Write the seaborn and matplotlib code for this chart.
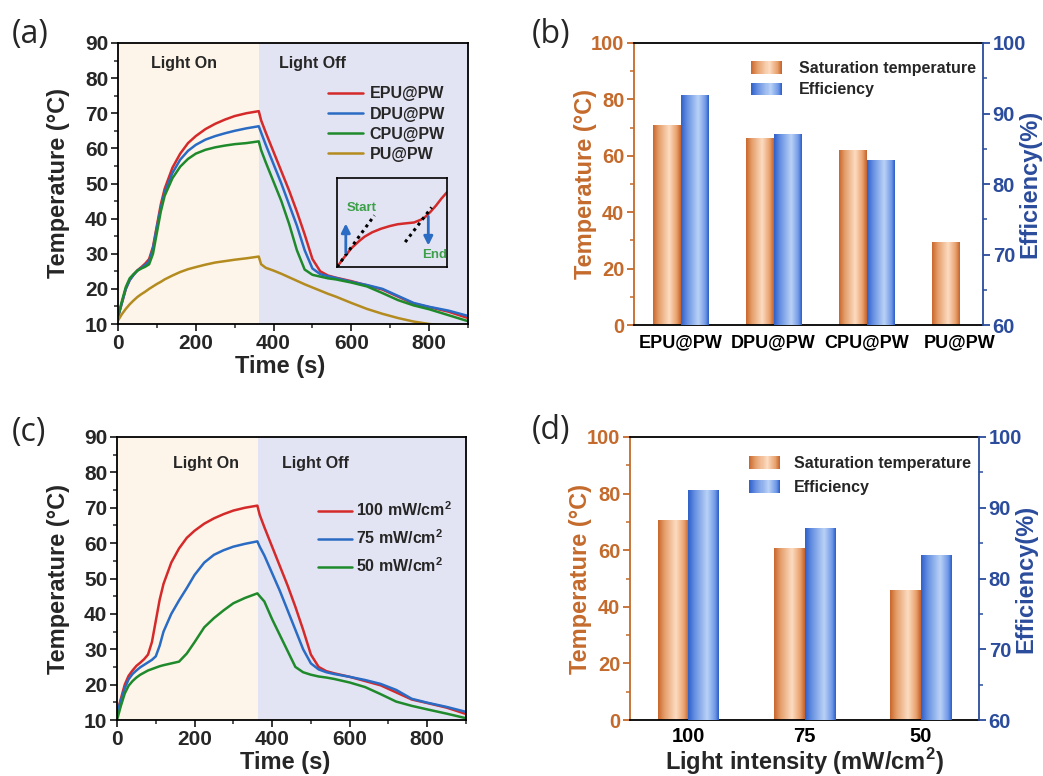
import numpy as np
import pandas as pd
import matplotlib
matplotlib.use("Agg")
import matplotlib.pyplot as plt
import seaborn as sns
from matplotlib.colors import LinearSegmentedColormap
from matplotlib.legend_handler import HandlerBase
from matplotlib.patches import Rectangle
from matplotlib.lines import Line2D
from matplotlib.ticker import MultipleLocator

# ---------------- data ----------------
# time axis of the heating (light on) / cooling (light off) runs, s
time_s = [0, 10, 20, 30, 40, 50, 60, 70, 80, 90, 100, 110, 120, 140, 160, 180, 200,
          225, 250, 275, 300, 330, 362, 368, 380, 400, 420, 440, 460, 480, 500,
          520, 540, 560, 600, 640, 680, 720, 760, 800, 850, 900]

# temperature of each composite, °C (100 mW/cm2)
epu_pw = [12, 16, 20, 22.5, 24, 25.3, 26.2, 27.2, 28.5, 32, 38, 44, 48.5, 54.5, 58.5, 61.5, 63.5,
          65.5, 67, 68.2, 69.2, 70, 70.6, 68, 64.5, 59, 53.5, 48, 42, 35.5, 28.5,
          25, 23.8, 23.2, 22.2, 21, 19.8, 17.8, 15.8, 14.8, 13.5, 11.7]
dpu_pw = [12, 16, 20, 22.5, 24, 25.2, 26, 26.8, 27.8, 31.5, 37.5, 43, 47.5, 53, 56.8, 59.3, 61,
          62.5, 63.5, 64.3, 65, 65.7, 66.3, 64.5, 61, 55.5, 50, 44, 38, 31, 25.8,
          24.2, 23.6, 23.1, 22.0, 21.1, 20.0, 18.0, 16.0, 14.9, 13.8, 12.3]
cpu_pw = [12, 16.5, 20.5, 23, 24.2, 25.2, 25.8, 26.3, 27, 30, 36, 42, 46.5, 51.5, 54.8, 57, 58.5,
          59.6, 60.3, 60.8, 61.2, 61.5, 62, 59.5, 56, 50.5, 45, 38.5, 31, 25.5, 24,
          23.5, 23.0, 22.7, 21.8, 20.7, 18.8, 16.8, 15.3, 14.2, 12.5, 10.8]
pu_pw = [11, 12.8, 14.3, 15.6, 16.7, 17.7, 18.5, 19.2, 20.0, 20.7, 21.4, 22.0, 22.7, 23.8, 24.8, 25.6, 26.2,
         26.9, 27.5, 27.9, 28.3, 28.7, 29.2, 27, 26, 25.2, 24.3, 23.3, 22.3, 21.3, 20.4,
         19.5, 18.6, 17.8, 16.0, 14.3, 12.9, 11.7, 10.7, 10.0, 9.5, 9.2]

# EPU@PW under different light intensities, °C
int_100 = epu_pw
int_75 = [12, 15.5, 19, 21.5, 23, 24, 24.9, 25.6, 26.3, 27, 28, 31, 35, 40, 43.8, 47.3, 51,
          54.5, 56.7, 58, 59, 59.8, 60.5, 59, 56.5, 51.5, 46.5, 41, 35.5, 30, 26,
          24.3, 23.5, 23, 22.2, 21.3, 20.2, 18.5, 16, 14.9, 13.7, 12.3]
int_50 = [10, 14, 17.5, 19.7, 21, 22, 22.8, 23.4, 24, 24.4, 24.8, 25.2, 25.5, 26, 26.5, 28.8, 32,
          36.2, 38.8, 41, 43, 44.5, 45.8, 45, 43.5, 38.5, 34, 29.5, 25, 23.5, 22.8,
          22.3, 22, 21.6, 20.6, 19.3, 17.3, 15.2, 14, 13, 11.8, 10.5]

samples = ["EPU@PW", "DPU@PW", "CPU@PW", "PU@PW"]
sample_curves = [epu_pw, dpu_pw, cpu_pw, pu_pw]
intensity_labels = ["100 mW/cm$^{\\mathbf{2}}$", "75 mW/cm$^{\\mathbf{2}}$", "50 mW/cm$^{\\mathbf{2}}$"]
intensity_curves = [int_100, int_75, int_50]

# saturation temperature (°C) and photothermal efficiency (%)
sat_temp = [70.6, 66.3, 62.0, 29.2]
efficiency = [92.5, 87.0, 83.3]          # no value for PU@PW
intensities = ["100", "75", "50"]
sat_temp_int = [70.6, 60.5, 45.8]
efficiency_int = [92.5, 87.0, 83.3]

light_switch = 363
metrics = ["Saturation temperature", "Efficiency"]

# ---------------- style ----------------
sns.set_style("ticks")
plt.rcParams["font.family"] = ["Liberation Sans", "DejaVu Sans"]
plt.rcParams["font.weight"] = "bold"
plt.rcParams["axes.labelweight"] = "bold"
plt.rcParams["mathtext.fontset"] = "custom"
plt.rcParams["mathtext.bf"] = "Liberation Sans:bold"
plt.rcParams["mathtext.rm"] = "Liberation Sans:bold"
plt.rcParams["axes.linewidth"] = 1.3

RED, BLUE, GREEN, GOLD = "#D42A2A", "#2A6BC4", "#1F8A2B", "#B38B1F"
ORANGE_TXT, BLUE_TXT = "#C46A2C", "#2B4C9C"
ON_BG, OFF_BG = "#FDF5E9", "#E3E4F3"

orange_cmap = LinearSegmentedColormap.from_list(
    "bar_orange", [(0, "#C9652B"), (0.2, "#E49C68"), (0.58, "#FDDCC2"), (0.85, "#E8A06C"), (1, "#C4602A")])
blue_cmap = LinearSegmentedColormap.from_list(
    "bar_blue", [(0, "#2E5FC9"), (0.22, "#6690E2"), (0.62, "#BAD2F6"), (0.88, "#6F98E6"), (1, "#2A5BC6")])


class GradientHandler(HandlerBase):
    def __init__(self, cmap, **kw):
        super().__init__(**kw)
        self.cmap = cmap

    def create_artists(self, legend, orig_handle, xdescent, ydescent, width, height, fontsize, trans):
        n = 30
        arts = []
        for i in range(n):
            r = Rectangle((-xdescent + width * i / n, -ydescent), width / n * 1.08, height,
                          facecolor=self.cmap((i + 0.5) / n), edgecolor="none", transform=trans)
            arts.append(r)
        return arts


fig = plt.figure(figsize=(10.43, 7.76), dpi=100)
W, H = 1043, 776


def add_axes_px(l, t, r, b):
    return fig.add_axes([l / W, 1 - b / H, (r - l) / W, (b - t) / H])


def curve_panel(ax, names, curves, colors, on_xy, off_xy):
    df = pd.concat([pd.DataFrame({"Time (s)": time_s, "T": c, "sample": n})
                    for n, c in zip(names, curves)], ignore_index=True)
    ax.axvspan(0, light_switch, color=ON_BG, zorder=0, lw=0)
    ax.axvspan(light_switch, 900, color=OFF_BG, zorder=0, lw=0)
    sns.lineplot(data=df, x="Time (s)", y="T", hue="sample", hue_order=names,
                 palette=dict(zip(names, colors)), estimator=None, linewidth=1.8,
                 legend=False, ax=ax)
    ax.set_xlim(0, 900)
    ax.set_ylim(10, 90)
    ax.xaxis.set_major_locator(MultipleLocator(200))
    ax.xaxis.set_minor_locator(MultipleLocator(100))
    ax.yaxis.set_major_locator(MultipleLocator(10))
    ax.yaxis.set_minor_locator(MultipleLocator(5))
    ax.tick_params(which="major", direction="out", length=5, width=1.3, labelsize=15, pad=2)
    ax.tick_params(which="minor", direction="out", length=3, width=1.1)
    ax.set_xlabel("Time (s)", fontsize=17)
    ax.set_ylabel("Temperature (°C)", fontsize=17)
    ax.text(*on_xy, "Light On", ha="center", va="center", fontsize=11.5)
    ax.text(*off_xy, "Light Off", ha="center", va="center", fontsize=11.5)
    for s in ax.spines.values():
        s.set_color("black")
        s.set_linewidth(1.3)
        s.set_zorder(5)


def shade_bars(ax, cmap):
    xl, yl = ax.get_xlim(), ax.get_ylim()
    grad = np.linspace(0, 1, 256).reshape(1, -1)
    for p in list(ax.patches):
        h = p.get_height()
        if not np.isfinite(h) or h == 0:
            continue
        x0, y0, w = p.get_x(), p.get_y(), p.get_width()
        ax.imshow(grad, extent=(x0, x0 + w, y0, y0 + h), aspect="auto", cmap=cmap,
                  origin="lower", zorder=p.get_zorder() + 0.1, interpolation="bicubic")
        p.set_facecolor("none")
    ax.set_xlim(xl)
    ax.set_ylim(yl)


def bar_panel(ax, cats, temps, effs, width, xlim, xtick_size, xtick_pad, leg_xy, leg_spacing, leg_pad):
    pal = {metrics[0]: "#E39A66", metrics[1]: "#6690E2"}
    df_t = pd.DataFrame({"cat": cats, "value": temps, "metric": metrics[0]})
    df_e = pd.DataFrame({"cat": cats[:len(effs)], "value": effs, "metric": metrics[1]})
    sns.barplot(data=df_t, x="cat", y="value", hue="metric", hue_order=metrics, order=cats,
                dodge=True, width=width, palette=pal, legend=False, errorbar=None,
                linewidth=0, ax=ax)
    ax2 = ax.twinx()
    sns.barplot(data=df_e, x="cat", y="value", hue="metric", hue_order=metrics, order=cats,
                dodge=True, width=width, palette=pal, legend=False, errorbar=None,
                linewidth=0, ax=ax2)
    ax.set_ylim(0, 100)
    ax2.set_ylim(60, 100)
    ax.set_xlim(*xlim)
    shade_bars(ax, orange_cmap)
    shade_bars(ax2, blue_cmap)
    ax.set_xlim(*xlim)

    ax.yaxis.set_major_locator(MultipleLocator(20))
    ax.yaxis.set_minor_locator(MultipleLocator(10))
    ax2.yaxis.set_major_locator(MultipleLocator(10))
    ax2.yaxis.set_minor_locator(MultipleLocator(5))
    ax.tick_params(axis="y", which="major", colors=ORANGE_TXT, direction="out", length=5,
                   width=1.3, labelsize=14.5, pad=2)
    ax.tick_params(axis="y", which="minor", colors=ORANGE_TXT, direction="out", length=3, width=1.1)
    ax2.tick_params(axis="y", which="major", colors=BLUE_TXT, direction="out", length=5,
                    width=1.3, labelsize=14.5, pad=2)
    ax2.tick_params(axis="y", which="minor", colors=BLUE_TXT, direction="out", length=3, width=1.1)
    ax.tick_params(axis="x", length=0, labelsize=xtick_size, pad=xtick_pad, colors="black")

    ax.spines["left"].set_color(ORANGE_TXT)
    ax.spines["right"].set_visible(False)
    ax.spines["top"].set_color("black")
    ax.spines["bottom"].set_color("black")
    for s in ("left", "top", "bottom"):
        ax2.spines[s].set_visible(False)
    ax2.spines["right"].set_color(BLUE_TXT)
    for s in ax.spines.values():
        s.set_linewidth(1.3)
    ax2.spines["right"].set_linewidth(1.3)

    ax.set_ylabel("Temperature (°C)", fontsize=17, color=ORANGE_TXT)
    ax2.set_ylabel("Efficiency(%)", fontsize=17, color=BLUE_TXT)
    ax.set_xlabel("")
    ax2.set_xlabel("")

    handles = [Rectangle((0, 0), 1, 1), Rectangle((0, 0), 1, 1)]
    ax2.legend(handles, metrics, loc="upper left", bbox_to_anchor=leg_xy, frameon=False,
               fontsize=11.5, borderpad=0, borderaxespad=0, handlelength=1.95,
               handleheight=0.85, handletextpad=leg_pad, labelspacing=leg_spacing,
               handler_map={handles[0]: GradientHandler(orange_cmap),
                            handles[1]: GradientHandler(blue_cmap)})
    return ax2


# ---------------- (a) ----------------
ax_a = add_axes_px(118, 43, 468, 324)
curve_panel(ax_a, samples, sample_curves, [RED, BLUE, GREEN, GOLD], (170, 84.3), (499, 84.3))
ax_a.yaxis.set_label_coords(-0.137, 0.5)
ax_a.xaxis.set_label_coords(0.463, -0.11)
ax_a.legend([Line2D([], [], color=c, lw=1.8) for c in [RED, BLUE, GREEN, GOLD]], samples,
            loc="upper left", bbox_to_anchor=(0.6, 0.846), frameon=False, fontsize=11.5,
            borderpad=0, borderaxespad=0, handlelength=2.2, handletextpad=0.4, labelspacing=0.33)

# schematic inset: tangent method for start/end of the phase change
inset_x = [0.0, 0.06, 0.13, 0.2, 0.25, 0.32, 0.4, 0.48, 0.55, 0.62, 0.7, 0.76, 0.8, 0.85, 0.9, 0.95, 1.0]
inset_y = [0.0, 0.1, 0.21, 0.29, 0.34, 0.39, 0.43, 0.46, 0.48, 0.49, 0.5, 0.53, 0.56, 0.62, 0.69, 0.77, 0.84]
tangent_start_x, tangent_start_y = [0.0, 0.34], [0.0, 0.58]
tangent_end_x, tangent_end_y = [0.62, 0.86], [0.28, 0.67]
ax_in = add_axes_px(337, 178, 447, 267)
ax_in.set_facecolor("none")
sns.lineplot(x=inset_x, y=inset_y, color=RED, linewidth=1.8, ax=ax_in)
ax_in.plot(tangent_start_x, tangent_start_y, color="black", ls=(0, (1, 1.3)), lw=2.2)
ax_in.plot(tangent_end_x, tangent_end_y, color="black", ls=(0, (1, 1.3)), lw=2.2)
ax_in.annotate("", xy=(0.08, 0.52), xytext=(0.08, 0.13),
               arrowprops=dict(arrowstyle="-|>", color=BLUE, lw=2, mutation_scale=13))
ax_in.annotate("", xy=(0.83, 0.21), xytext=(0.83, 0.6),
               arrowprops=dict(arrowstyle="-|>", color=BLUE, lw=2, mutation_scale=13))
ax_in.text(0.22, 0.66, "Start", color="#3BA048", fontsize=9.5, ha="center", va="center")
ax_in.text(0.89, 0.14, "End", color="#3BA048", fontsize=9.5, ha="center", va="center")
ax_in.set_xlim(0, 1)
ax_in.set_ylim(0, 1)
ax_in.set_xticks([])
ax_in.set_yticks([])
for s in ax_in.spines.values():
    s.set_color("black")
    s.set_linewidth(1.2)

# ---------------- (b) ----------------
ax_b = add_axes_px(634, 43, 983, 325)
ax_b2 = bar_panel(ax_b, samples, sat_temp, efficiency, 0.6, (-0.5, 3.25), 13, 7,
                  (0.335, 0.937), 0.42, 1.05)
ax_b.yaxis.set_label_coords(-0.106, 0.5)
ax_b2.yaxis.set_label_coords(1.10, 0.5)

# ---------------- (c) ----------------
ax_c = add_axes_px(117, 437, 466, 720)
curve_panel(ax_c, intensity_labels, intensity_curves, [RED, BLUE, GREEN], (229, 82.6), (511, 82.6))
ax_c.yaxis.set_label_coords(-0.135, 0.5)
ax_c.xaxis.set_label_coords(0.481, -0.108)
ax_c.legend([Line2D([], [], color=c, lw=1.8) for c in [RED, BLUE, GREEN]], intensity_labels,
            loc="upper left", bbox_to_anchor=(0.576, 0.775), frameon=False, fontsize=11.5,
            borderpad=0, borderaxespad=0, handlelength=2.1, handletextpad=0.25, labelspacing=0.58)

# ---------------- (d) ----------------
ax_d = add_axes_px(630, 437, 979, 720)
ax_d2 = bar_panel(ax_d, intensities, sat_temp_int, efficiency_int, 0.526, (-0.5, 2.5), 14.5, 5,
                  (0.341, 0.932), 0.55, 0.85)
ax_d.set_xlabel("Light intensity (mW/cm$^{\\mathbf{2}}$)", fontsize=17)
ax_d.yaxis.set_label_coords(-0.109, 0.5)
ax_d2.yaxis.set_label_coords(1.10, 0.5)
ax_d.xaxis.set_label_coords(0.5, -0.093)

# panel tags
for tag, x, y in [("(a)", 12, 34), ("(b)", 532, 34), ("(c)", 12, 432), ("(d)", 532, 431)]:
    fig.text(x / W, 1 - y / H, tag, family="Open Sans", fontweight="normal", fontsize=23,
             ha="left", va="center")

fig.savefig("out.png", dpi=100)
